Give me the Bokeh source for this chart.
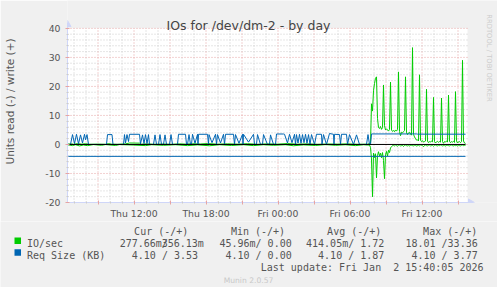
import math
from bokeh.plotting import figure
from bokeh.layouts import column
from bokeh.models import FixedTicker, Label, BoxAnnotation, PolyAnnotation, Range1d
from bokeh.embed import file_html
from bokeh.resources import INLINE

# ---------------- data ----------------
T0 = 6.4583          # first sample: hours after Thu 00:00 (06:27:30)
STEP = 5.0 / 60.0    # 5-minute samples
N_SAMPLES = 400      # samples shown across the graph

x_tick_hours = [12, 18, 24, 30, 36]
x_tick_labels = ["Thu 12:00", "Thu 18:00", "Fri 00:00", "Fri 06:00", "Fri 12:00"]
x_grid_major_hours = [9, 12, 15, 18, 21, 24, 27, 30, 33, 36, 39]
x_grid_minor_hours = [7, 8, 10, 11, 13, 14, 16, 17, 19, 20, 22, 23, 25, 26, 28, 29,
                      31, 32, 34, 35, 37, 38]
y_ticks = [-20, -10, 0, 10, 20, 30, 40]
y_tick_labels = ["-20", "-10", "0", "10", "20", "30", "40"]
y_minor = [-18, -16, -14, -12, -8, -6, -4, -2, 2, 4, 6, 8, 12, 14, 16, 18,
           22, 24, 26, 28, 32, 34, 36, 38]
Y_MIN, Y_MAX = -20, 40

# IO/sec write (+): quiet part as breakpoints (sample index, value)
io_write_head_idx = [0, 4, 6, 10, 14, 18, 22, 30, 38, 41, 44, 50, 58, 62, 72, 74, 80, 86,
                     95, 104, 112, 118, 125, 133, 140, 150, 160, 170, 180, 190, 200, 210,
                     220, 230, 240, 250, 260, 270, 280, 290, 300]
io_write_head_val = [0.1, 0.2, 0.05, 0.3, 0.1, 0.25, 0.05, 0.1, 0.05, 0.3, 0.1, 0.05, 0.2,
                     0.5, 0.45, 0.1, 0.2, 0.05, 0.15, 0.05, 0.2, 0.1, 0.25, 0.15, 0.3, 0.1,
                     0.2, 0.1, 0.25, 0.05, 0.2, 0.1, 0.3, 0.1, 0.2, 0.05, 0.15, 0.1, 0.2,
                     0.05, 0.1]
TAIL_START = 302
io_write_tail = [0.3, 0.5, 14, 11.5, 18.5, 21, 22.8, 23.3, 9, 5.8,
                 5.5, 6.2, 5.2, 5.8, 20.5, 6.5, 5.0, 5.4, 5.0, 4.6,
                 5.2, 21.5, 5.0, 4.5, 4.8, 4.4, 5.0, 4.6, 5.2, 25,
                 4.5, 3.0, 4.2, 4.0, 4.4, 4.8, 23.3, 4.0, 3.4, 4.0,
                 4.2, 3.6, 3.2, 33.36, 3.5, 2.6, 2.0, 1.5, 1.6, 1.2,
                 24, 1.5, 1.0, 1.3, 0.8, 1.0, 1.2, 19, 1.2, 0.6,
                 1.0, 0.8, 1.2, 0.9, 16.2, 1.0, 0.5, 0.9, 1.1, 0.7,
                 1.0, 0.8, 16, 1.0, 0.4, 1.0, 0.9, 1.2, 0.8, 17,
                 1.1, 0.6, 1.0, 0.8, 1.1, 0.7, 18.2, 1.2, 0.5, 0.9,
                 1.0, 0.6, 1.0, 29, 1.2, 0.5, 0.36]

# IO/sec read (-)
io_read_head_idx = [0, 5, 8, 12, 16, 20, 26, 34, 38, 48, 52, 66, 78, 84, 96, 108, 120, 130,
                    142, 152, 164, 176, 186, 196, 206, 218, 226, 236, 248, 258, 268, 278,
                    288, 296, 300]
io_read_head_val = [-0.1, -0.4, -0.1, -0.5, -0.2, -0.4, -0.05, -0.3, -0.05, -0.35, -0.05,
                    -0.2, -0.4, -0.1, -0.3, -0.1, -0.4, -0.15, -0.45, -0.1, -0.35, -0.1,
                    -0.4, -0.1, -0.3, -0.1, -0.45, -0.15, -0.35, -0.05, -0.3, -0.1, -0.4,
                    -0.1, -0.2]
io_read_tail = [-0.2, -1.0, -5.0, -18.01, -3.0, -4.5, -3.2, -11.5, -3.8, -2.5,
                -4.0, -3.0, -4.6, -2.8, -5.5, -11.8, -3.5, -2.4, -4.0, -2.0,
                -2.8, -1.2, -0.8, -0.4,
                -0.3, -0.5, -0.2, -0.4, -0.6, -0.3, -0.2, -0.5, -0.4, -0.3,
                -0.7, -0.3, -0.2, -0.4, -0.5, -0.3, -0.6, -0.2, -0.3, -0.4,
                -0.5, -0.3, -0.2, -0.6, -0.4, -0.3, -0.5, -0.2, -0.3, -0.4,
                -0.8, -0.3, -0.2, -0.4, -0.5, -0.3, -0.2, -0.5, -0.4, -0.3,
                -0.6, -0.3, -0.2, -0.4, -0.5, -0.3, -0.4, -0.2, -0.3, -0.5,
                -0.4, -0.3, -0.6, -0.2, -0.3, -0.4, -0.5, -0.3, -0.2, -0.4,
                -0.5, -0.3, -0.4, -0.2, -0.6, -0.3, -0.4, -0.5, -0.3, -0.2,
                -0.4, -0.3, -0.28]

# Req Size (KB) write (+)
req_write_idx = [0, 3, 5, 7, 9, 11, 13, 15, 17, 18, 19.5, 21,
                 39, 40, 44.5, 45.5,
                 56, 57, 58, 59.5, 61, 62, 72, 73, 75, 76.5, 78, 79.5, 81, 82,
                 86, 87.5, 89, 91, 92.5, 94, 96, 97.5, 99, 102, 103.5, 105,
                 110, 111, 118, 119, 120, 121.5, 123, 124, 125, 127.5, 130, 130.5, 131,
                 140, 141, 141.5, 144.5, 148, 149, 150, 153, 156, 157, 158, 166, 167,
                 168, 171.5, 175, 175.5, 176, 181, 186, 187,
                 189, 190, 193, 195, 196, 200, 202, 203, 206, 208, 209, 216, 217, 220,
                 222, 224.5, 227, 228, 229, 230.5, 232, 233.5, 235, 236.5, 238, 239.5,
                 241, 242.5, 244, 247, 249, 254, 254.5, 256, 259, 262, 266, 266.5, 267,
                 272, 273, 274, 279, 280, 282, 286, 289, 292, 299, 300.5, 302, 303, 304,
                 349, 350, 398]
req_write_val = [0, 0, 3.4, 0.3, 3.5, 0.2, 3.3, 0.5, 3.5, 1.6, 3.4, 0,
                 0, 3.4, 3.4, 0,
                 0, 3.4, 0.5, 3.4, 1.0, 3.5, 3.5, 0.2, 3.3, 0.3, 3.4, 0.3, 3.4, 0,
                 0, 3.3, 0, 0, 3.4, 0, 0, 3.3, 0, 0, 3.4, 0,
                 0, 3.5, 3.5, 0, 0, 3.4, 0, 0, 3.5, 0.4, 3.5, 0, 3.5,
                 3.5, 0, 3.4, 0.6, 3.5, 0, 3.4, 0.5, 3.5, 0, 3.5, 3.5, 0,
                 3.4, 0.4, 3.5, 0, 3.5, 0.8, 3.5, 0,
                 0, 3.4, 0, 0, 3.4, 0, 0, 3.3, 0, 0, 3.6, 3.6, 3.5, 0.5,
                 3.5, 0.6, 3.5, 0, 3.4, 0.5, 3.5, 0.4, 3.4, 0.6, 3.5, 0.4,
                 3.4, 0, 3.4, 0, 3.5, 3.5, 0, 3.4, 0, 3.77, 3.5, 0, 3.5,
                 3.4, 0, 3.5, 3.5, 0, 3.4, 0, 3.3, 0, 0, 3.4, 0, 0, 3.62,
                 3.62, 3.55, 3.53]

# Req Size (KB) read (-)
req_read_idx = [0, 398]
req_read_val = [-4.10, -4.10]

title_text = "IOs for /dev/dm-2 - by day"
y_axis_label = "Units read (-) / write (+)"
legend_headers = ["Cur (-/+)", "Min (-/+)", "Avg (-/+)", "Max (-/+)"]
series_names = ["IO/sec", "Req Size (KB)"]
series_colors = ["#00CC00", "#0066B3"]
io_cur_read, io_cur_write = "277.66m", "356.13m"
io_stats_rest = ["45.96m/ 0.00", "414.05m/ 1.72", "18.01 /33.36"]
req_stats = ["4.10 / 3.53", "4.10 / 0.00", "4.10 / 1.87", "4.10 / 3.77"]
last_update = "Last update: Fri Jan \u00a02 15:40:05 2026"
version_text = "Munin 2.0.57"
watermark = "RRDTOOL / TOBI OETIKER"


def to_hours(idx):
    return [T0 + i * STEP for i in idx]


io_w_idx = io_write_head_idx + list(range(TAIL_START, TAIL_START + len(io_write_tail)))
io_w_val = io_write_head_val + io_write_tail
io_r_idx = io_read_head_idx + list(range(TAIL_START, TAIL_START + len(io_read_tail)))
io_r_val = io_read_head_val + io_read_tail

# ---------------- layout geometry (canvas px) ----------------
W, H = 497, 287
FL = 67            # frame left
DATA_R = 467       # right edge of the data area
DATA_T = 28        # top of the data area (y = 40)
FB = 203           # frame bottom (y = -20)
MAIN_H = 221       # main figure height; the legend panel fills the rest
BG = "#F0F0F0"
AXIS_C = "#CFD6F8"
MGRID_C = "#E6A4A4"
GRID_C = "#CCCCCC"
FONT_C = "#555555"

px_per_h = (DATA_R - FL) / (N_SAMPLES * STEP)
px_per_u = (FB - DATA_T) / (Y_MAX - Y_MIN)
T_END = T0 + N_SAMPLES * STEP
X_END = T0 + (W - FL) / px_per_h
Y_END = Y_MIN + FB / px_per_u


def no_align(fig):
    if "frame_align" in fig.properties():
        fig.frame_align = False


# the frame extends to the canvas top and right edge so that the title, watermark
# and axis arrows can be drawn inside it; the data ranges still map as in the original
p = figure(width=W, height=MAIN_H, output_backend="svg", toolbar_location=None,
           x_range=Range1d(T0, X_END), y_range=Range1d(Y_MIN, Y_END),
           min_border_left=FL, min_border_right=0, min_border_top=0,
           min_border_bottom=MAIN_H - FB)
no_align(p)
p.border_fill_color = BG
p.background_fill_color = BG
p.outline_line_color = None
p.grid.visible = False

# white canvas of the data area
p.quad(left=[T0], right=[T_END], bottom=[Y_MIN], top=[Y_MAX],
       fill_color="#FFFFFF", fill_alpha=1.0, line_color=None)

# grid lines limited to the data area (minor first, then major)
p.segment(x0=x_grid_minor_hours, x1=x_grid_minor_hours,
          y0=[Y_MIN] * len(x_grid_minor_hours), y1=[Y_MAX] * len(x_grid_minor_hours),
          line_color=GRID_C, line_width=1, line_dash="1 2")
p.segment(x0=[T0] * len(y_minor), x1=[T_END] * len(y_minor), y0=y_minor, y1=y_minor,
          line_color=GRID_C, line_width=1, line_dash="1 2")
p.segment(x0=x_grid_major_hours, x1=x_grid_major_hours,
          y0=[Y_MIN] * len(x_grid_major_hours), y1=[Y_MAX] * len(x_grid_major_hours),
          line_color=MGRID_C, line_width=1, line_dash="1 2")
y_major_lines = y_ticks[1:]
p.segment(x0=[T0] * len(y_major_lines), x1=[T_END] * len(y_major_lines),
          y0=y_major_lines, y1=y_major_lines,
          line_color=MGRID_C, line_width=1, line_dash="1 2")

# axes
xa = p.xaxis[0]
xa.ticker = FixedTicker(ticks=x_grid_major_hours, minor_ticks=x_grid_minor_hours)
overrides = {h: "" for h in x_grid_major_hours}
for h, lab in zip(x_tick_hours, x_tick_labels):
    overrides[h] = lab
xa.major_label_overrides = overrides
xa.bounds = (T0, T0 + (473 - FL) / px_per_h)
ya = p.yaxis[0]
ya.ticker = FixedTicker(ticks=y_ticks, minor_ticks=y_minor)
ya.major_label_overrides = {v: s for v, s in zip(y_ticks, y_tick_labels)}
ya.bounds = (Y_MIN, Y_MAX + 2)
ya.axis_label = y_axis_label
ya.axis_label_text_font = "DejaVu Sans"
ya.axis_label_text_font_style = "normal"
ya.axis_label_text_font_size = "10.5px"
ya.axis_label_text_color = FONT_C
ya.axis_label_standoff = 26
for ax in (xa, ya):
    ax.axis_line_color = AXIS_C
    ax.major_tick_line_color = MGRID_C
    ax.minor_tick_line_color = GRID_C
    ax.major_tick_in = 2
    ax.major_tick_out = 2
    ax.minor_tick_in = 1
    ax.minor_tick_out = 1
    ax.major_label_text_font = "DejaVu Sans"
    ax.major_label_text_font_size = "9.3px"
    ax.major_label_text_color = FONT_C
xa.major_label_standoff = 3
ya.major_label_standoff = 5

# data lines
p.line(to_hours(io_r_idx), io_r_val, line_color=series_colors[0], line_width=1)
p.line(to_hours(io_w_idx), io_w_val, line_color=series_colors[0], line_width=1)
p.line(to_hours(req_read_idx), req_read_val, line_color=series_colors[1], line_width=1)
p.line(to_hours(req_write_idx), req_write_val, line_color=series_colors[1], line_width=1)
zero_t = to_hours([req_read_idx[0], req_read_idx[-1]])
p.line(zero_t, [0, 0], line_color="#000000", line_width=1)


def add_text(fig, txt, cx, cy, size, font="DejaVu Sans Mono", color=FONT_C, align="left",
             baseline="alphabetic", angle=0.0, screen=True):
    if screen:   # main figure: frame-relative screen units
        kw = dict(x=cx - FL, y=FB - cy, x_units="screen", y_units="screen")
    else:        # legend panel: data units equal canvas pixels
        kw = dict(x=cx, y=cy)
    fig.add_layout(Label(text=txt, text_font=font, text_font_size=f"{size}px",
                         text_color=color, text_align=align, text_baseline=baseline,
                         angle=angle, **kw))


def add_poly(pts, color):
    p.add_layout(PolyAnnotation(xs=[x - FL for x, _ in pts], ys=[FB - y for _, y in pts],
                                xs_units="screen", ys_units="screen", fill_color=color,
                                fill_alpha=1.0, line_color=color, line_alpha=1.0))


# axis arrows
add_poly([(67, 21), (63.5, 27), (70.5, 27)], AXIS_C)
add_poly([(474, 203), (468, 199.5), (468, 206.5)], AXIS_C)

add_text(p, title_text, 248, 25.7, 12.5, font="DejaVu Sans", color="#444444", align="center")
add_text(p, watermark, 488, 58.5, 6.8, font="DejaVu Sans", color="#CCCCCC", align="center",
         baseline="middle", angle=-math.pi / 2)

# ---------------- legend panel ----------------
q = figure(width=W, height=H - MAIN_H, output_backend="svg", toolbar_location=None,
           x_range=Range1d(0, W), y_range=Range1d(H, MAIN_H),
           x_axis_location=None, y_axis_location=None,
           min_border_left=0, min_border_right=0, min_border_top=0, min_border_bottom=0)
no_align(q)
q.grid.visible = False
q.border_fill_color = BG
q.background_fill_color = BG
q.outline_line_color = None

header_ends = [187.8, 284.6, 380.8, 476.8]
for txt, xe in zip(legend_headers, header_ends):
    add_text(q, txt, xe, 231, 10, align="right", screen=False)

row_y = [243.3, 255]
box_top = [237, 248.7]
for name, col, yb, bt in zip(series_names, series_colors, row_y, box_top):
    q.add_layout(BoxAnnotation(left=14, right=20.5, top=bt, bottom=bt + 6.5,
                               fill_color=col, fill_alpha=1.0, line_color=None))
    add_text(q, name, 26.5, yb, 10, screen=False)

# IO/sec row
add_text(q, io_cur_write, 203.3, row_y[0], 10, align="right", screen=False)
add_text(q, io_cur_read + "/", 167.3, row_y[0], 10, align="right", screen=False)
for txt, xe in zip(io_stats_rest, [291.2, 383.8, 477.2]):
    add_text(q, txt, xe, row_y[0], 10, align="right", screen=False)
# Req size row
for txt, xe in zip(req_stats, [197.5, 291.2, 383.8, 477.2]):
    add_text(q, txt, xe, row_y[1], 10, align="right", screen=False)

add_text(q, last_update, 483, 267, 10, align="right", screen=False)
add_text(q, version_text, 248, 279.5, 7.6, font="DejaVu Sans", color="#C8C8C8",
         align="center", screen=False)

layout = column(p, q, spacing=0)
open("out.html", "w").write(file_html(layout, INLINE))
